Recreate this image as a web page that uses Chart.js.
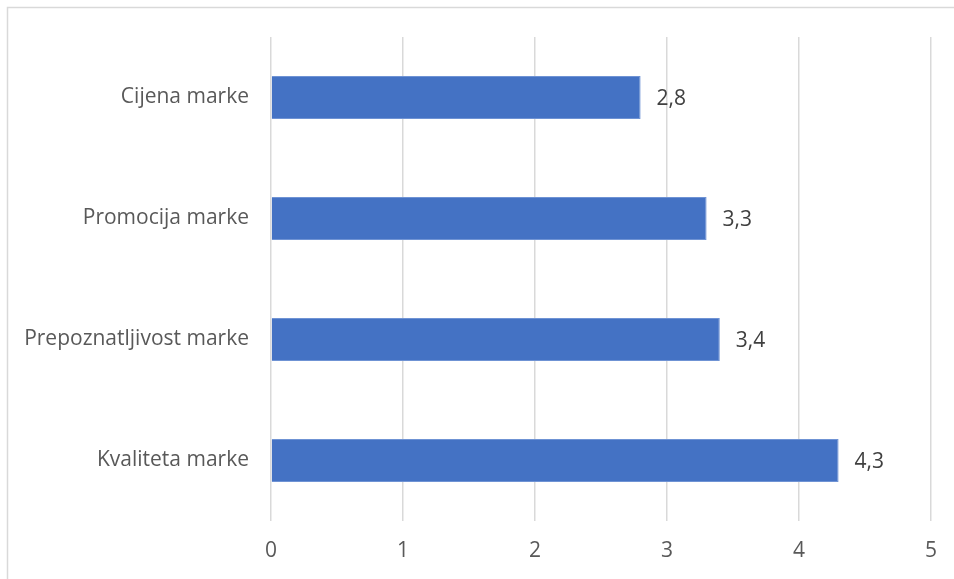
<!DOCTYPE html>
<html>
<head>
<meta charset="utf-8">
<script src="https://cdn.jsdelivr.net/npm/chart.js@4.4.1/dist/chart.umd.min.js"></script>
<style>
  html, body { margin: 0; padding: 0; background: #fff; }
  #wrap { position: relative; width: 954px; height: 579px; }
</style>
</head>
<body>
<div id="wrap"><canvas id="chart"></canvas></div>
<script>
var categories = ['Cijena marke', 'Promocija marke', 'Prepoznatljivost marke', 'Kvaliteta marke'];
var values = [2.8, 3.3, 3.4, 4.3];
var xTicks = [0, 1, 2, 3, 4, 5];

var fontFamily = "'Open Sans', 'Liberation Sans', sans-serif";

// outer frame like the excel chart area
var framePlugin = {
    id: 'frame',
    beforeDraw: function (chart) {
        var ctx = chart.ctx;
        ctx.save();
        ctx.fillStyle = '#ffffff';
        ctx.fillRect(0, 0, chart.width, chart.height);
        ctx.strokeStyle = '#d9d9d9';
        ctx.lineWidth = 1.5;
        ctx.strokeRect(7.5, 7.5, chart.width + 20, chart.height + 20);
        ctx.restore();
    }
};

// value labels at the end of each bar
var valueLabels = {
    id: 'valueLabels',
    afterDatasetsDraw: function (chart) {
        var ctx = chart.ctx;
        var meta = chart.getDatasetMeta(0);
        ctx.save();
        ctx.font = '21px ' + fontFamily;
        ctx.fillStyle = '#404040';
        ctx.textAlign = 'left';
        ctx.textBaseline = 'middle';
        meta.data.forEach(function (bar, i) {
            ctx.fillText(String(values[i]).replace('.', ','), bar.x + 16, bar.y + 2);
        });
        ctx.restore();
    }
};

new Chart(document.getElementById('chart'), {
    type: 'bar',
    data: {
        labels: categories,
        datasets: [{
            data: values,
            backgroundColor: '#4472c4',
            borderColor: '#6f93d4',
            borderWidth: 1,
            categoryPercentage: 1,
            barPercentage: 0.355
        }]
    },
    options: {
        indexAxis: 'y',
        responsive: true,
        maintainAspectRatio: false,
        animation: false,
        layout: {
            padding: { top: 37, right: 23, left: 0, bottom: 0 }
        },
        plugins: {
            legend: { display: false },
            tooltip: { enabled: false }
        },
        scales: {
            x: {
                min: 0,
                max: 5,
                afterBuildTicks: function (scale) {
                    scale.ticks = xTicks.map(function (v) { return { value: v }; });
                },
                afterFit: function (scale) { scale.height = 58; },
                grid: {
                    color: '#d9d9d9',
                    lineWidth: 1.5,
                    drawTicks: false
                },
                border: { display: false },
                ticks: {
                    color: '#595959',
                    padding: 17,
                    font: { size: 21, family: fontFamily }
                }
            },
            y: {
                afterFit: function (scale) { scale.width = 271; },
                grid: { display: false, drawTicks: false },
                border: { display: false },
                ticks: {
                    color: '#595959',
                    padding: 22,
                    font: { size: 21, family: fontFamily }
                }
            }
        }
    },
    plugins: [framePlugin, valueLabels]
});
</script>
</body>
</html>
